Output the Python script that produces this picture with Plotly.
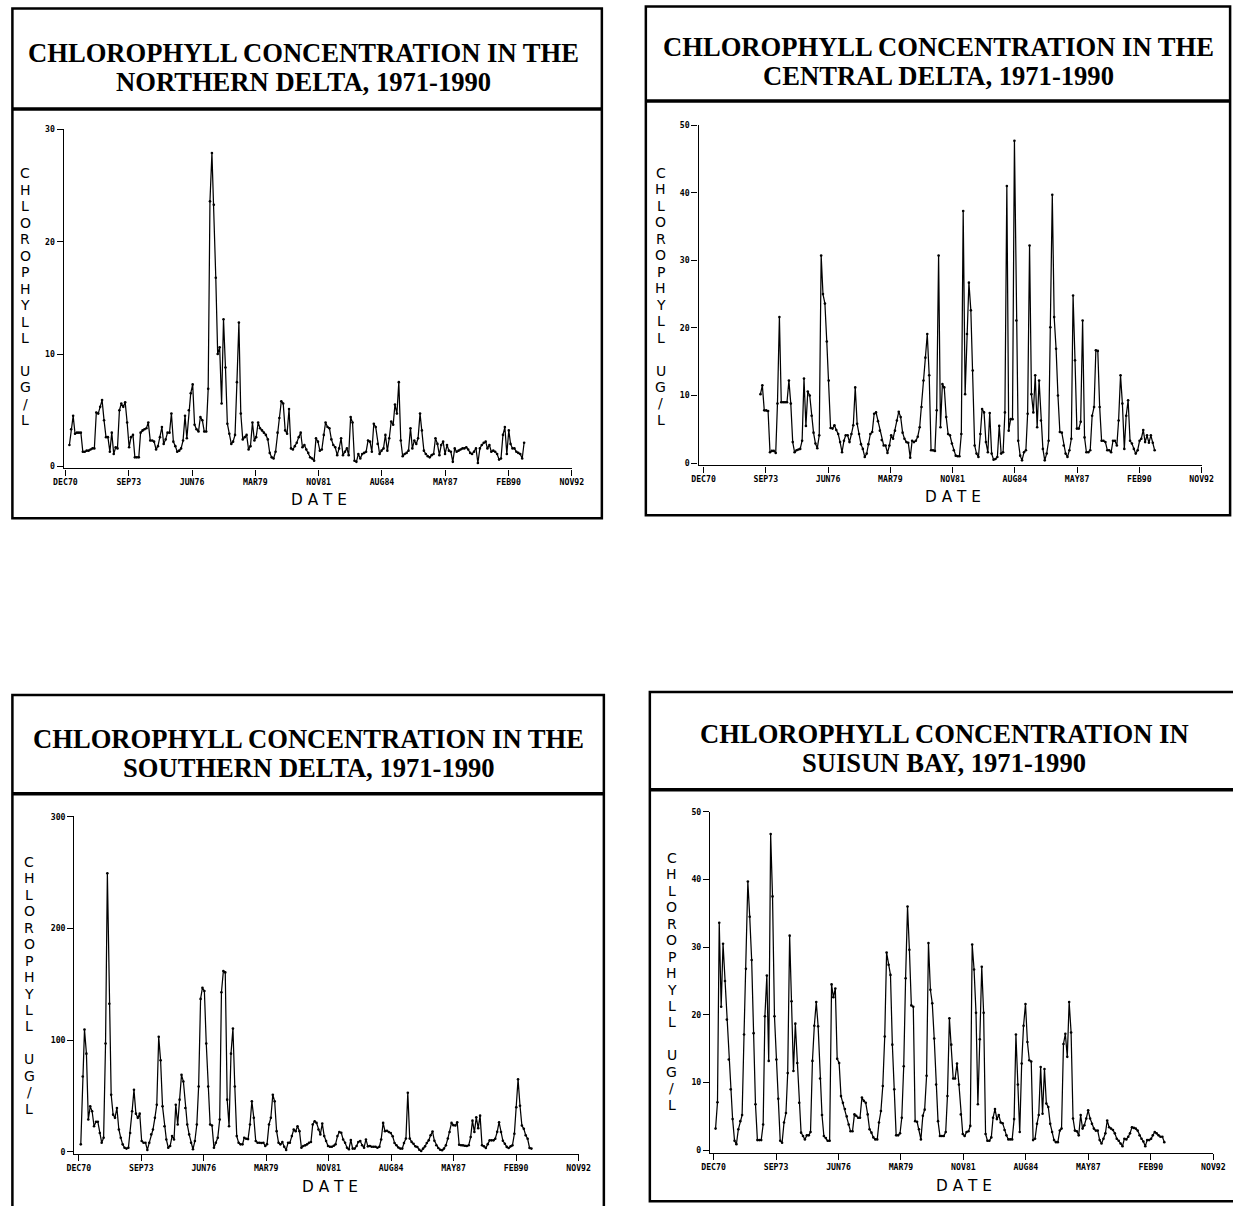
import plotly.graph_objects as go
import pandas as pd

# ---------------- data (monthly samples, mid-month) ----------------
north_start = "1971-02"
north_vals = [
    1.9, 3.3, 4.5, 2.9, 3.0, 3.0, 3.0, 1.3, 1.3, 1.4, 1.4,
    1.5, 1.6, 1.6, 4.8, 4.7, 5.3, 5.9, 4.1, 2.6, 2.6, 1.3, 3.0,
    1.1, 1.7, 1.6, 5.0, 5.6, 5.3, 5.7, 3.9, 1.7, 2.6, 2.8, 0.8,
    0.8, 0.8, 3.0, 3.2, 3.3, 3.4, 3.9, 2.3, 2.3, 2.2, 1.5, 1.8,
    2.6, 3.5, 2.0, 2.4, 3.0, 3.0, 4.7, 2.2, 1.8, 1.3, 1.4, 1.6,
    2.3, 4.5, 2.5, 5.0, 6.5, 7.3, 3.7, 3.3, 3.1, 4.4, 4.1, 3.1,
    3.1, 6.9, 23.6, 27.9, 23.3, 16.8, 10.0, 10.6, 5.6, 13.1, 8.8, 3.8,
    2.9, 2.0, 2.2, 2.8, 7.5, 12.8, 4.7, 2.4, 2.6, 2.8, 1.5, 1.8,
    3.9, 2.3, 2.6, 3.9, 3.4, 3.2, 3.0, 2.8, 2.4, 1.2, 0.8, 0.7,
    1.3, 3.0, 4.3, 5.8, 5.6, 3.2, 2.9, 5.1, 1.6, 1.5, 1.8, 2.1,
    2.6, 3.0, 1.7, 1.9, 1.5, 1.2, 0.8, 0.7, 0.5, 2.5, 2.2, 1.4,
    1.5, 2.8, 3.9, 3.5, 3.4, 2.4, 1.9, 1.7, 1.0, 1.6, 2.5, 1.0,
    1.3, 1.6, 1.0, 4.4, 3.9, 0.5, 0.4, 1.1, 0.7, 1.1, 1.2, 1.3,
    2.3, 2.2, 1.3, 3.8, 3.5, 2.0, 1.1, 1.4, 1.6, 2.8, 1.4, 2.5,
    4.0, 3.7, 5.5, 4.7, 7.5, 2.3, 0.9, 1.1, 1.2, 1.4, 3.4, 1.6,
    2.3, 2.0, 2.5, 4.7, 3.2, 1.4, 1.1, 0.9, 0.8, 1.0, 1.1, 2.5,
    2.0, 1.0, 1.9, 2.2, 1.1, 1.9, 1.4, 1.3, 0.4, 1.6, 1.3, 1.4,
    1.5, 1.6, 1.6, 1.7, 1.5, 1.2, 1.1, 1.3, 1.6, 0.3, 1.6, 1.9,
    2.1, 2.2, 1.6, 1.9, 1.3, 1.4, 1.3, 1.1, 0.6, 0.7, 2.8, 3.5,
    1.1, 3.2, 2.0, 1.6, 1.6, 1.3, 1.2, 1.1, 0.7, 2.1,
]

central_start = "1973-06"
central_vals = [
    10.2, 11.5, 7.8, 7.8, 7.7, 1.6, 1.8,
    1.8, 1.5, 8.8, 21.6, 9.0, 9.0, 9.0, 9.0, 12.2, 8.8, 3.1, 1.6,
    1.9, 2.0, 2.1, 3.3, 12.5, 5.5, 10.6, 10.0, 7.0, 4.5, 2.9, 2.2,
    4.1, 30.7, 25.0, 23.6, 18.0, 12.2, 5.2, 5.1, 5.6, 4.9, 4.3, 3.1,
    1.6, 3.3, 4.1, 4.1, 3.1, 4.3, 5.6, 11.2, 5.8, 4.3, 2.8, 2.1,
    0.9, 1.4, 2.8, 4.3, 4.6, 7.3, 7.5, 6.2, 4.8, 3.4, 2.6, 2.6,
    1.5, 2.6, 4.1, 3.6, 4.8, 6.3, 7.6, 6.8, 4.5, 3.6, 3.1, 3.0,
    0.8, 3.3, 3.1, 3.3, 3.9, 5.3, 8.3, 12.2, 15.6, 19.1, 13.0, 1.9,
    1.9, 1.8, 7.8, 30.7, 5.3, 11.7, 11.2, 6.8, 4.3, 4.1, 2.9, 1.9,
    1.1, 1.0, 1.0, 4.3, 37.3, 10.2, 19.1, 26.7, 22.6, 13.7, 2.6, 1.4,
    0.9, 4.3, 8.0, 7.5, 3.1, 1.6, 7.4, 1.4, 0.5, 0.6, 0.9, 5.5,
    1.4, 1.6, 7.5, 41.0, 4.8, 6.5, 6.5, 47.7, 21.1, 3.3, 1.1, 0.4,
    1.6, 1.9, 7.3, 32.2, 10.2, 7.5, 13.0, 5.3, 12.2, 6.3, 2.1, 0.4,
    1.4, 3.3, 20.1, 39.7, 21.6, 16.9, 10.0, 4.6, 4.5, 2.6, 1.4, 0.9,
    1.9, 3.6, 24.8, 15.2, 5.1, 5.1, 6.1, 21.1, 3.8, 1.6, 1.6, 1.9,
    7.0, 8.3, 16.7, 16.6, 8.3, 3.3, 3.3, 3.1, 1.9, 1.9, 1.6, 3.3,
    3.3, 2.6, 6.3, 13.0, 8.8, 2.1, 7.0, 9.3, 3.3, 2.9, 2.1, 1.4,
    1.9, 3.3, 3.6, 4.9, 3.1, 4.1, 3.0, 4.1, 3.0, 1.9,
]

south_start = "1971-01"
south_vals = [
    6.8, 67.5, 109.5, 88, 29, 40.8, 36.4, 23, 27, 27, 17, 8.3,
    12.7, 97, 249.5, 132.6, 51.2, 33.4, 30.5, 39.4, 20.1, 12.7, 6.8, 3.8,
    3.0, 3.8, 17, 36.4, 55.6, 34.3, 30.5, 34.3, 9.8, 8.3, 8.3, 1.8,
    8.3, 15.7, 20.1, 30.5, 42.3, 103, 82, 40.8, 23, 11.2, 3.8, 5.3,
    14.2, 11.2, 42.3, 24.6, 46.8, 69, 63, 39.4, 24.6, 15.7, 8.3, 2.4,
    9.8, 24.6, 58.6, 137, 147, 144, 97, 58.6, 24.6, 23.7, 3.8, 8.3,
    12.7, 29, 143, 162, 160.7, 46.8, 23, 88, 110.4, 58.6, 14.2, 8.3,
    6.8, 6.8, 12.7, 11.8, 11.5, 24.6, 45.3, 30.5, 9.8, 8.3, 8.3, 8.0,
    8.3, 5.3, 7.0, 24.6, 30.5, 51.2, 45.3, 18.6, 8.3, 6.8, 8.9, 4.7,
    1.8, 8.3, 8.3, 14.2, 20.1, 18.6, 23, 18.6, 3.8, 5.3, 5.9, 6.8,
    8.3, 8.9, 24.6, 27.5, 26, 20.1, 15.7, 25.4, 14.2, 9.8, 5.3, 4.7,
    4.7, 5.5, 6.8, 14.2, 17.8, 17.2, 11.2, 8.3, 3.8, 2.4, 10.7, 3.0,
    3.0, 5.3, 8.9, 9.8, 6.0, 3.8, 11.2, 5.0, 5.3, 4.7, 4.7, 4.7,
    3.8, 4.7, 11.2, 26, 18.6, 19, 17.8, 17, 14, 8, 6, 4,
    3.0, 3.0, 8, 12, 53, 12, 9, 7.4, 5, 4.4, 2, 0.9,
    3, 5, 8, 10.4, 15, 18.3, 10, 6, 3.6, 2, 1.5, 3,
    5.9, 12, 17.8, 26, 24, 23.7, 26.6, 6.5, 6, 5.9, 5.5, 5.3,
    6, 13.3, 28, 17.8, 31, 21.3, 32.5, 6, 5, 3.6, 7, 10.4,
    10.4, 10.4, 11.8, 18, 26.6, 17.8, 10, 7.4, 4.5, 3.6, 5, 5.9,
    16.3, 40, 65, 41.4, 23.7, 20.7, 15, 11.8, 3.6, 3.0,
]

suisun_start = "1971-01"
suisun_vals = [
    3.2, 7.1, 33.6, 21.2, 30.5, 25, 19.3, 13.4, 9.0, 4.6, 1.4, 0.9,
    3.1, 4.3, 5.2, 17.1, 26.8, 39.7, 34.5, 28.1, 17.3, 6.8, 1.5, 1.5,
    1.5, 3.8, 19.8, 25.8, 13.2, 46.7, 37.5, 19.8, 13.4, 7.6, 1.4, 1.1,
    4.1, 5.5, 11.4, 31.7, 22, 11.7, 18.7, 12.9, 7, 2.6, 2.1, 1.6,
    2.2, 2.2, 2.7, 13.2, 18.4, 21.9, 18.3, 10.6, 5.2, 2.1, 1.8, 1.4,
    1.4, 24.5, 22.6, 23.9, 13.5, 12.9, 8.0, 7.0, 6.1, 5.0, 3.8, 2.8,
    2.8, 5.3, 5.1, 4.8, 4.8, 7.8, 7.3, 7.0, 5.3, 3.1, 2.6, 1.9,
    1.6, 1.6, 4.1, 5.8, 9.5, 16.8, 29.2, 27.4, 25.9, 15.6, 9.0, 2.2,
    2.2, 2.5, 4.8, 12.4, 25.4, 36, 29.6, 21.4, 21.2, 4.3, 4.2, 3.1,
    1.6, 5.1, 6.0, 11, 30.6, 23.7, 21.7, 16.5, 9.7, 4.3, 2.1, 2.1,
    2.1, 2.7, 8.0, 19.5, 15.6, 10.6, 10.6, 12.8, 9.7, 5.3, 2.4, 2.1,
    2.7, 2.8, 3.6, 30.4, 26.7, 20.3, 6.8, 16.4, 27.1, 20.3, 2.4, 1.4,
    1.4, 1.9, 4.8, 6.1, 4.6, 5.2, 4.1, 4.0, 3.0, 2.2, 1.6, 1.6,
    1.6, 4.6, 17.1, 9.7, 2.7, 12.8, 18.4, 21.6, 16.0, 13.3, 13.1, 1.5,
    1.7, 3.9, 5.2, 12.3, 5.4, 12, 6.9, 6.4, 3.9, 2.7, 1.5, 1.2,
    1.2, 2.9, 3.2, 15.7, 17.2, 13.8, 21.9, 17.4, 4.7, 2.9, 2.8, 2.2,
    5.2, 3.2, 3.7, 4.7, 5.9, 4.7, 3.9, 3.2, 2.9, 2.9, 1.5, 1.0,
    1.7, 2.5, 4.4, 3.4, 3.2, 3.0, 2.5, 1.7, 1.4, 1.0, 0.6, 1.7,
    1.6, 2.0, 2.5, 3.4, 3.3, 3.2, 2.9, 2.2, 1.7, 1.3, 0.6, 1.5,
    1.5, 1.7, 2.2, 2.7, 2.5, 2.2, 2.0, 2.0, 1.2,
]

x_tick_dates = ["1970-12-14", "1973-09-09", "1976-06-05", "1979-03-02",
                "1981-11-26", "1984-08-22", "1987-05-19", "1990-02-12",
                "1992-11-08"]
x_tick_labels = ["DEC70", "SEP73", "JUN76", "MAR79", "NOV81", "AUG84",
                 "MAY87", "FEB90", "NOV92"]

titles_line1 = ["CHLOROPHYLL CONCENTRATION IN THE",
                "CHLOROPHYLL CONCENTRATION IN THE",
                "CHLOROPHYLL CONCENTRATION IN THE",
                "CHLOROPHYLL CONCENTRATION IN"]
titles_line2 = ["NORTHERN DELTA, 1971-1990",
                "CENTRAL DELTA, 1971-1990",
                "SOUTHERN DELTA, 1971-1990",
                "SUISUN BAY, 1971-1990"]
y_ticks = [[0, 10, 20, 30], [0, 10, 20, 30, 40, 50],
           [0, 100, 200, 300], [0, 10, 20, 30, 40, 50]]
y_max = [30, 50, 300, 50]
y_label = "CHLOROPHYLL UG/L"
x_label = "D A T E"

# ---------------- layout geometry ----------------
# Targets below are positions in the final 1233x1206 picture; they are mapped to
# figure coordinates with the measured page->picture transform.
W, H = 1250, 1212
SX, OX = 0.982, 8.9
SY, OY = 0.995, 3.9
def cx(t): return (t - OX) / SX
def cy(t): return (t - OY) / SY
def fx(t): return cx(t) / W
def fy(t): return 1 - cy(t) / H

geom = [
    dict(box=(10.3, 7.5, 600, 518), sep=108, xdom=(61.7, 570), ydom=(128.3, 468), y0px=466,
         xleft="1970-11-18", t1=(302, 51.8), t2=(302, 81.3), ylab=(23, 172.5), date=(317.5, 500)),
    dict(box=(644, 5.4, 1228.5, 515), sep=100, xdom=(696.7, 1200), ydom=(124, 465), y0px=462.7,
         xleft="1970-09-24", t1=(936.5, 45.8), t2=(936.5, 75.3), ylab=(659, 172), date=(951.5, 497)),
    dict(box=(10.3, 695, 602, 1212), sep=794, xdom=(72.3, 576.7), ydom=(816.7, 1155), y0px=1152.7,
         xleft="1970-10-04", t1=(307, 739), t2=(307, 768.5), ylab=(27, 862), date=(328.5, 1188)),
    dict(box=(648, 692, 1260, 1202), sep=790, xdom=(708.3, 1211.7), ydom=(811.7, 1153.3), y0px=1151,
         xleft="1970-10-20", t1=(942.5, 734), t2=(942.5, 763.5), ylab=(670, 858), date=(962, 1187)),
]

series = [(north_start, north_vals), (central_start, central_vals),
          (south_start, south_vals), (suisun_start, suisun_vals)]

fig = go.Figure()
shapes, annotations = [], []
tickfont = dict(family="DejaVu Sans Mono", size=8.2, color="black", weight="bold")
labfont = dict(family="DejaVu Sans", size=14, color="black")
datefont = dict(family="DejaVu Sans", size=15.3, color="black")
titlefont = dict(family="Liberation Serif", size=26.6, color="black", weight="bold")

for i, ((start, vals), g) in enumerate(zip(series, geom)):
    n = i + 1
    xs = "" if n == 1 else str(n)
    dates = pd.date_range(start, periods=len(vals), freq="MS") + pd.Timedelta(days=14)
    fig.add_trace(go.Scatter(
        x=dates, y=vals, mode="lines+markers",
        line=dict(color="black", width=1.25),
        marker=dict(size=2.6, color="black"),
        xaxis="x" + xs, yaxis="y" + xs, showlegend=False, hoverinfo="skip"))

    top, bot = g["ydom"]
    ymax = y_max[i]
    scale = ymax / (g["y0px"] - top)
    ybottom = -(bot - g["y0px"]) * scale
    fig.update_layout(**{
        "xaxis" + xs: dict(
            domain=[fx(g["xdom"][0]), fx(g["xdom"][1] + 0.1)],
            range=[g["xleft"], "1992-11-09"], type="date",
            tickvals=x_tick_dates, ticktext=x_tick_labels,
            ticks="outside", ticklen=6, tickwidth=1.4, tickcolor="black",
            showline=True, linecolor="black", linewidth=1.4,
            showgrid=False, zeroline=False, tickfont=tickfont,
            anchor="y" + xs, fixedrange=True),
        "yaxis" + xs: dict(
            domain=[fy(bot), fy(top)],
            range=[ybottom, ymax * 1.0008],
            tickvals=y_ticks[i], ticks="outside", ticklen=6, tickwidth=1.4,
            tickcolor="black", showline=True, linecolor="black", linewidth=1.4,
            showgrid=False, zeroline=False, tickfont=tickfont,
            anchor="x" + xs, fixedrange=True),
    })

    x0, y0, x1, y1 = g["box"]
    shapes.append(dict(type="rect", xref="paper", yref="paper",
                       x0=fx(x0), x1=fx(x1), y0=fy(y1), y1=fy(y0),
                       line=dict(color="black", width=2.5)))
    shapes.append(dict(type="line", xref="paper", yref="paper",
                       x0=fx(x0), x1=fx(x1), y0=fy(g["sep"]), y1=fy(g["sep"]),
                       line=dict(color="black", width=3.5)))

    annotations.append(dict(text=titles_line1[i], x=fx(g["t1"][0]), y=fy(g["t1"][1]),
                            xref="paper", yref="paper", showarrow=False,
                            xanchor="center", yanchor="middle", font=titlefont))
    annotations.append(dict(text=titles_line2[i], x=fx(g["t2"][0]), y=fy(g["t2"][1]),
                            xref="paper", yref="paper", showarrow=False,
                            xanchor="center", yanchor="middle", font=titlefont))

    lx, ly = g["ylab"]
    for k, ch in enumerate(y_label):
        if ch == " ":
            continue
        annotations.append(dict(text=ch, x=fx(lx), y=fy(ly + k * 16.5),
                                xref="paper", yref="paper", showarrow=False,
                                xanchor="center", yanchor="middle", font=labfont))
    dx, dy = g["date"]
    annotations.append(dict(text=x_label, x=fx(dx), y=fy(dy),
                            xref="paper", yref="paper", showarrow=False,
                            xanchor="center", yanchor="middle", font=datefont))

fig.update_layout(width=W, height=H, margin=dict(l=0, r=0, t=0, b=0),
                  paper_bgcolor="white", plot_bgcolor="rgba(0,0,0,0)",
                  shapes=shapes, annotations=annotations)

fig.write_html("out.html")
